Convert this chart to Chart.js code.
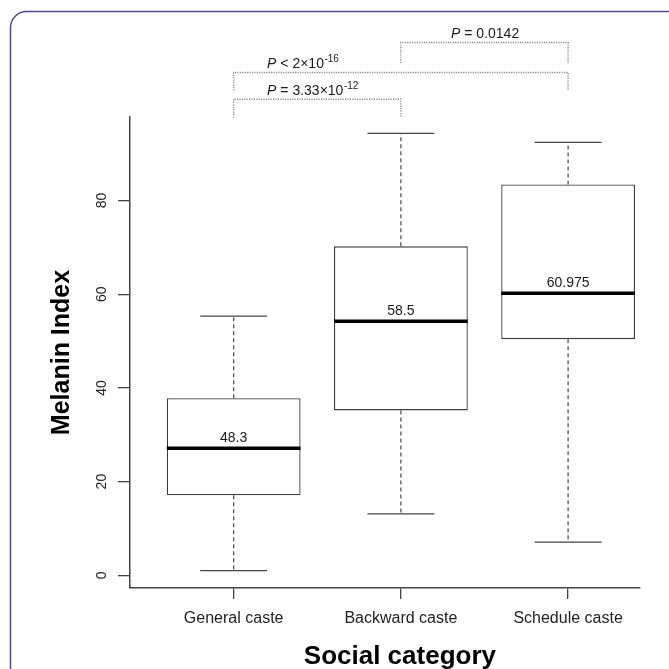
<!DOCTYPE html>
<html>
<head>
<meta charset="utf-8">
<title>Melanin Index by social category</title>
<script src="https://cdn.jsdelivr.net/npm/chart.js@4.4.1/dist/chart.umd.min.js"></script>
<style>
    html, body { margin: 0; padding: 0; background: #fff; overflow: hidden; }
    #wrap { width: 669px; height: 669px; position: relative; }
</style>
</head>
<body>
<div id="wrap"><canvas id="boxChart" width="669" height="669"></canvas></div>
<script>
// Values
const categories = ['General caste', 'Backward caste', 'Schedule caste'];
const whiskerLow = [1, 13.1, 7.1];
const q1 = [17.1, 35.2, 50.4];
const medians = [27.1, 54.2, 60.2];
const q3 = [37.8, 70.2, 83.4];
const whiskerHigh = [55.3, 94.3, 92.4];
const meanLabels = ['48.3', '58.5', '60.975'];
const yTicks = [0, 20, 40, 60, 80];

// pairwise tests (category index pairs) and their p values
const compPairs = [[0, 1], [0, 2], [1, 2]];
const compRel = ['=', '<', '='];
const compValue = ['3.33\u00d710', '2\u00d710', '0.0142'];
const compExp = ['-12', '-16', ''];

const FONT = '"Liberation Sans", Arial, Helvetica, sans-serif';

// layout of the comparison brackets (in y units, above the plot)
const bracketLevel = [101.6, 107.3, 113.7];
const bracketFoot = [97.7, 103.5, 109.4];
const textAnchor = [1.2, 1.2, 2.3];

// build point lists for the line pieces
const boxData = categories.map((c, i) => ({ x: i + 1, y: [q1[i], q3[i]] }));

const whiskerPts = [];
const capPts = [];
const medianPts = [];
categories.forEach((c, i) => {
    const x = i + 1;
    whiskerPts.push({ x: x, y: q3[i] }, { x: x, y: whiskerHigh[i] }, { x: x, y: null });
    whiskerPts.push({ x: x, y: q1[i] }, { x: x, y: whiskerLow[i] }, { x: x, y: null });
    capPts.push({ x: x - 0.2, y: whiskerHigh[i] }, { x: x + 0.2, y: whiskerHigh[i] }, { x: x, y: null });
    capPts.push({ x: x - 0.2, y: whiskerLow[i] }, { x: x + 0.2, y: whiskerLow[i] }, { x: x, y: null });
    medianPts.push({ x: x - 0.4, y: medians[i] }, { x: x + 0.4, y: medians[i] }, { x: x, y: null });
});

const bracketPts = [];
compPairs.forEach((p, j) => {
    const a = p[0] + 1, b = p[1] + 1;
    bracketPts.push({ x: a, y: bracketFoot[j] }, { x: a, y: bracketLevel[j] },
                    { x: b, y: bracketLevel[j] }, { x: b, y: bracketFoot[j] }, { x: b, y: null });
});

// border, labels and p values
const extras = {
    id: 'boxExtras',
    beforeDraw(chart) {
        const ctx = chart.ctx;
        ctx.save();
        ctx.fillStyle = '#fff';
        ctx.fillRect(0, 0, chart.width, chart.height);
        // frame of the figure panel, cut by the right and bottom edges
        ctx.strokeStyle = '#4f4790';
        ctx.lineWidth = 1.5;
        ctx.beginPath();
        ctx.moveTo(10.5, 700);
        ctx.lineTo(10.5, 28);
        ctx.arcTo(10.5, 11.5, 27, 11.5, 16);
        ctx.lineTo(700, 11.5);
        ctx.stroke();
        ctx.restore();
    },
    afterDraw(chart) {
        const ctx = chart.ctx;
        const xs = chart.scales.x, ys = chart.scales.y;
        ctx.save();
        ctx.fillStyle = '#1a1a1a';

        // mean labels above the medians
        ctx.font = '14px ' + FONT;
        ctx.textAlign = 'center';
        ctx.textBaseline = 'middle';
        meanLabels.forEach((t, i) => {
            ctx.fillText(t, xs.getPixelForValue(i + 1), ys.getPixelForValue(medians[i]) - 10);
        });

        // p values over the brackets
        compPairs.forEach((p, j) => {
            let x = xs.getPixelForValue(textAnchor[j]);
            const y = ys.getPixelForValue(bracketLevel[j]) - 8;
            ctx.textAlign = 'left';
            ctx.font = 'italic 14px ' + FONT;
            ctx.fillText('P', x, y);
            x += ctx.measureText('P').width;
            ctx.font = '14px ' + FONT;
            const main = ' ' + compRel[j] + ' ' + compValue[j];
            ctx.fillText(main, x, y);
            x += ctx.measureText(main).width;
            if (compExp[j]) {
                ctx.font = '10px ' + FONT;
                ctx.fillText(compExp[j], x + 0.5, y - 5);
            }
        });

        // x axis title, centred under the middle category
        ctx.font = 'bold 26px ' + FONT;
        ctx.textAlign = 'center';
        ctx.fillStyle = '#000';
        ctx.fillText('Social category', xs.getPixelForValue(2) - 1, 657);
        ctx.restore();
    }
};

const ctx = document.getElementById('boxChart').getContext('2d');
new Chart(ctx, {
    type: 'bar',
    data: {
        datasets: [
            {
                type: 'line', label: 'median', data: medianPts, order: 0,
                borderColor: '#000', borderWidth: 3.5, pointRadius: 0, spanGaps: false,
                borderCapStyle: 'butt'
            },
            {
                type: 'line', label: 'caps', data: capPts, order: 1,
                borderColor: '#444', borderWidth: 1.3, pointRadius: 0, spanGaps: false
            },
            {
                type: 'line', label: 'whiskers', data: whiskerPts, order: 2,
                borderColor: '#555', borderWidth: 1.3, borderDash: [4, 3], pointRadius: 0, spanGaps: false
            },
            {
                type: 'line', label: 'brackets', data: bracketPts, order: 2, clip: false,
                borderColor: '#8a8a8a', borderWidth: 1.4, borderDash: [1.2, 1.2], pointRadius: 0, spanGaps: false
            },
            {
                type: 'bar', label: 'IQR', data: boxData, order: 3,
                backgroundColor: '#fff', borderColor: '#3c3c3c', borderWidth: 1.3,
                borderSkipped: false, categoryPercentage: 0.8, barPercentage: 1
            }
        ]
    },
    options: {
        responsive: false,
        animation: false,
        layout: { padding: { top: 117, right: 29, bottom: 0, left: 0 } },
        plugins: {
            legend: { display: false },
            tooltip: { enabled: false }
        },
        scales: {
            x: {
                type: 'linear',
                min: 0.38,
                max: 3.43,
                offset: false,
                afterBuildTicks: (s) => { s.ticks = categories.map((c, i) => ({ value: i + 1 })); },
                afterFit: (s) => { s.height = 81; },
                grid: { display: true, offset: false, drawOnChartArea: false, drawTicks: true, tickLength: 11, color: '#444', lineWidth: 1.3 },
                border: { display: true, color: '#444', width: 1.5 },
                ticks: {
                    autoSkip: false,
                    maxRotation: 0,
                    padding: 10,
                    color: '#222',
                    font: { size: 16, family: FONT },
                    callback: (v) => categories[Math.round(v) - 1]
                }
            },
            y: {
                type: 'linear',
                min: -2.7,
                max: 97.8,
                afterBuildTicks: (s) => { s.ticks = yTicks.map(v => ({ value: v })); },
                afterFit: (s) => { s.width = 130; },
                grid: { display: true, drawOnChartArea: false, drawTicks: true, tickLength: 12, color: '#444', lineWidth: 1.3 },
                border: { display: true, color: '#444', width: 1.5 },
                ticks: {
                    minRotation: 90,
                    maxRotation: 90,
                    crossAlign: 'center',
                    padding: 8,
                    color: '#222',
                    font: { size: 14, family: FONT }
                },
                title: {
                    display: true,
                    text: 'Melanin Index',
                    color: '#000',
                    font: { size: 25, weight: 'bold', family: FONT },
                    padding: { top: 47, bottom: 0 }
                }
            }
        }
    },
    plugins: [extras]
});
</script>
</body>
</html>
